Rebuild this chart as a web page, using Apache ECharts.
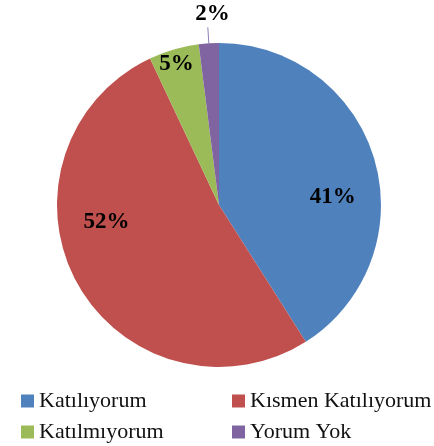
<!DOCTYPE html>
<html>
<head>
<meta charset="utf-8">
<script src="https://cdn.jsdelivr.net/npm/echarts@6/dist/echarts.min.js"></script>
<style>
  * { margin: 0; padding: 0; }
  #chart { width: 434px; height: 446px; background: #fff; }
</style>
</head>
<body>
<div id="chart"></div>
<script>
// kategoriler ve yüzdeler
const categories = ["Katılıyorum", "Kısmen Katılıyorum", "Katılmıyorum", "Yorum Yok"];
const percents = [41, 52, 5, 2];
const colors = ["#4F81BD", "#C0504D", "#9BBB59", "#8064A2"];

// etiketleri dilim içinde kaydırma (px)
const labelShift = [[33, 15], [-39, -23], [-19, -60], [27, -13]];

const legendBase = {
  orient: "vertical",
  top: 385,
  height: 80,
  itemWidth: 13,
  itemHeight: 13,
  itemGap: 9,
  icon: "rect",
  textStyle: { fontFamily: "Liberation Serif", fontSize: 22, color: "#111" },
};

const chart = echarts.init(document.getElementById("chart"));
chart.setOption({
  animation: false,
  color: colors,
  legend: [
    Object.assign({}, legendBase, { left: 16, data: [categories[0], categories[2]] }),
    Object.assign({}, legendBase, { left: 227, data: [categories[1], categories[3]] }),
  ],
  series: [
    {
      type: "pie",
      center: [219, 205],
      radius: 162,
      startAngle: 90,
      clockwise: true,
      label: {
        position: "inside",
        formatter: "{d}%",
        fontFamily: "Liberation Serif",
        fontWeight: "bold",
        fontSize: 23,
        color: "#000",
      },
      labelLine: { show: false },
      labelLayout: (p) => ({ dx: labelShift[p.dataIndex][0], dy: labelShift[p.dataIndex][1] }),
      data: categories.map((name, i) => {
        const item = { name: name, value: percents[i] };
        if (i === 3) {
          item.label = { position: "outside" };
          item.labelLine = {
            show: true,
            length: 16,
            length2: 0,
            lineStyle: { color: "#8f7db8", width: 1 },
          };
        }
        return item;
      }),
    },
  ],
});
</script>
</body>
</html>
